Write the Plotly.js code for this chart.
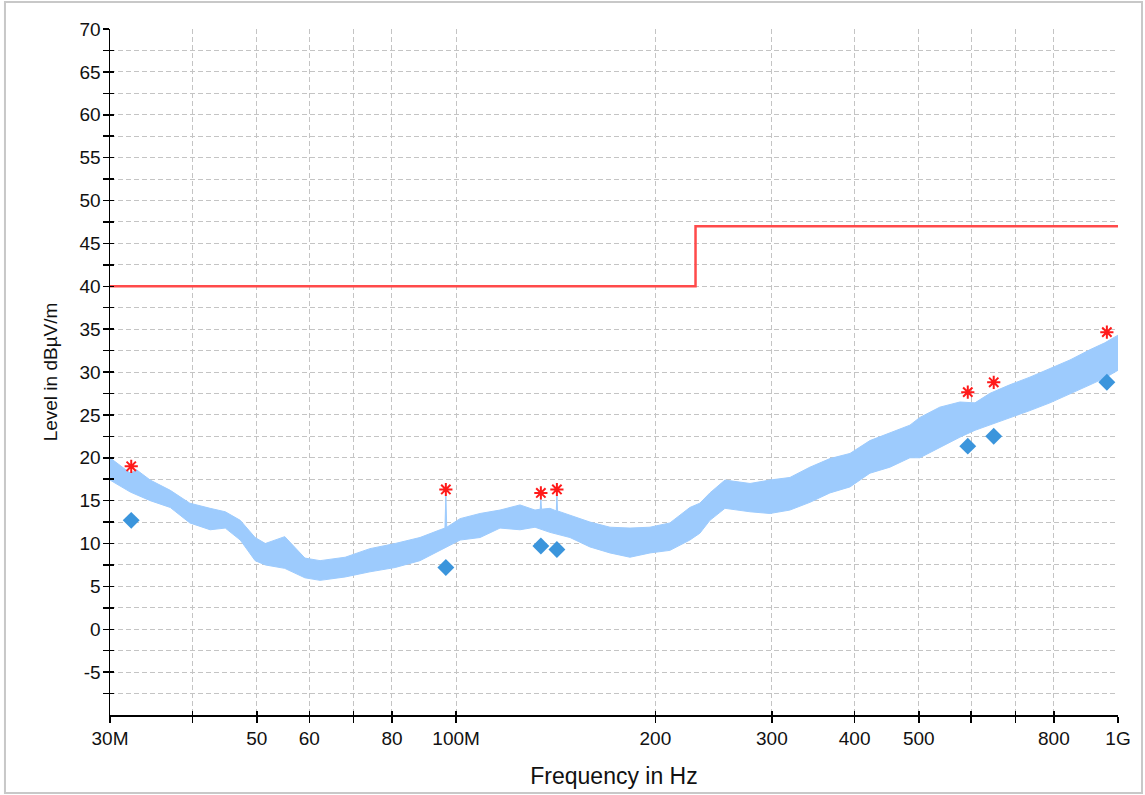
<!DOCTYPE html>
<html>
<head>
<meta charset="utf-8">
<script src="https://cdn.plot.ly/plotly-3.0.1.min.js"></script>
<style>
html,body{margin:0;padding:0;background:#fff;}
#chart{width:1145px;height:795px;}
</style>
</head>
<body>
<div id="chart"></div>
<script>
// ---- Data (frequency in MHz, level in dBµV/m) ----
const upperFreq = [30,32.2,32.9,34.5,37.0,39.6,42.5,44.8,47.2,49.7,51.5,55.1,59.1,62.3,68.0,74.1,80.9,88.2,94.6,96.2,96.5,96.8,101.4,108.7,116.5,124.9,131.6,134.0,134.3,134.6,138.6,141.7,142,142.3,148.6,159.3,170.8,183.1,196.3,210.4,225.5,233.5,241.8,254.8,278,297.9,319.4,342.4,367.1,393.6,421.9,452.3,484.9,502,538,577,608,640,686,736,789,846,907,955,1000];
const upperLevel = [20.0,18.2,18.6,17.4,16.2,14.7,14.1,13.7,12.7,10.7,10.0,10.8,8.3,8.0,8.4,9.4,10.0,10.7,11.6,11.8,15.6,11.9,12.9,13.5,13.9,14.5,13.9,14.0,15.2,14.0,14.1,13.8,15.6,13.8,13.3,12.5,11.9,11.8,11.9,12.4,14.2,14.7,15.9,17.4,17.0,17.4,17.7,18.9,19.9,20.5,22.0,22.9,23.8,24.7,25.9,26.5,26.4,27.5,28.5,29.4,30.4,31.4,32.6,33.4,34.3];
const lowerFreq = [30,32.2,34.5,37.0,39.6,42.5,44.8,47.2,49.7,51.5,55.1,59.1,62.3,68.0,74.1,80.9,88.2,94.6,101.4,108.7,116.5,124.9,131.6,138.6,148.6,159.3,170.8,183.1,196.3,210.4,225.5,233.5,241.8,254.8,278,297.9,319.4,342.4,367.1,393.6,421.9,452.3,484.9,502,538,577,608,640,686,736,789,846,907,955,1000];
const lowerLevel = [17.4,16.0,15.0,14.2,12.4,11.6,11.8,10.4,8.0,7.5,7.1,6.0,5.7,6.1,6.7,7.2,8.0,9.2,10.4,10.7,11.8,11.6,11.9,11.3,10.7,9.6,8.9,8.4,8.9,9.2,10.4,11.2,12.7,14.1,13.7,13.5,13.9,14.8,15.9,16.6,18.2,18.9,20.0,20.0,21.2,22.4,23.2,23.8,24.7,25.5,26.4,27.5,28.5,29.3,30.2];

const peakFreq  = [32.3,96.5,134.3,142,593,649,962];
const peakLevel = [19.0,16.3,15.9,16.3,27.65,28.8,34.65];
const finalFreq  = [32.3,96.5,134.3,142,593,649,962];
const finalLevel = [12.7,7.2,9.7,9.3,21.35,22.5,28.8];

const limitFreq  = [30,230,1000];
const limitLevel = [40,47,47];

const xTickVals = [30,40,50,60,70,80,100,200,300,400,500,600,700,800,1000];
const xTickText = ['30M','','50','60','','80','100M','200','300','400','500','','','800','1G'];
const yTickVals = [-5,0,5,10,15,20,25,30,35,40,45,50,55,60,65,70];
const yTickText = ['-5','0','5','10','15','20','25','30','35','40','45','50','55','60','65','70'];
const yMinorVals = [-7.5,-2.5,2.5,7.5,12.5,17.5,22.5,27.5,32.5,37.5,42.5,47.5,52.5,57.5,62.5,67.5];

// ---- Traces ----
const bandColor = '#9dcbfd';
const traces = [
  {x: lowerFreq, y: lowerLevel, type:'scatter', mode:'lines',
   line:{color:bandColor, width:1}, hoverinfo:'skip', showlegend:false},
  {x: upperFreq, y: upperLevel, type:'scatter', mode:'lines', fill:'tonexty',
   fillcolor:bandColor, line:{color:bandColor, width:1}, showlegend:false},
  {x: limitFreq, y: limitLevel, type:'scatter', mode:'lines',
   line:{color:'#ff4a4a', width:2.5, shape:'hv'}, showlegend:false},
  {x: finalFreq, y: finalLevel, type:'scatter', mode:'markers',
   marker:{symbol:'diamond', size:13, color:'#3b95dc'}, showlegend:false},
  {x: peakFreq, y: peakLevel, type:'scatter', mode:'markers',
   marker:{symbol:'asterisk-open', size:11, color:'#ff1a1a', line:{color:'#ff1a1a', width:2}}, showlegend:false}
];

const gridColor = '#c4c4c4';
const fontFam = 'Liberation Sans, Arial, sans-serif';
const xr = [Math.log10(30), Math.log10(1000)];

const layout = {
  width:1145, height:795,
  margin:{l:110, r:27, t:29, b:80},
  paper_bgcolor:'#ffffff', plot_bgcolor:'#ffffff',
  font:{family:fontFam, size:19, color:'#111'},
  showlegend:false,
  xaxis:{
    type:'log', range:xr, tickmode:'array', tickvals:xTickVals, ticktext:xTickText,
    ticks:'outside', ticklen:6, tickwidth:1.5, tickcolor:'#000',
    showline:true, linecolor:'#000', linewidth:1.5,
    showgrid:true, gridcolor:gridColor, griddash:'5px,3px', gridwidth:1,
    zeroline:false, tickfont:{size:19},
    title:{text:'Frequency in Hz', font:{size:23}, standoff:19}
  },
  xaxis2:{
    type:'log', range:xr, overlaying:'x', anchor:'y', side:'bottom',
    tickmode:'array', tickvals:xTickVals, ticks:'inside', ticklen:4, tickwidth:1.5, tickcolor:'#000',
    showticklabels:false, showgrid:false, showline:false, zeroline:false
  },
  yaxis:{
    range:[-10,70], tickmode:'array', tickvals:yTickVals, ticktext:yTickText,
    ticks:'outside', ticklen:6, tickwidth:1.5, tickcolor:'#000',
    showline:true, linecolor:'#000', linewidth:1.5,
    showgrid:true, gridcolor:gridColor, griddash:'5px,3px', gridwidth:1,
    zeroline:false, tickfont:{size:19}, ticklabelstandoff:-2,
    minor:{tickmode:'array', tickvals:yMinorVals, ticks:'outside', ticklen:6, tickwidth:1.5, tickcolor:'#000',
           showgrid:true, gridcolor:gridColor, griddash:'5px,3px', gridwidth:1},
    title:{text:'Level in dBµV/m', font:{size:19}, standoff:17}
  },
  yaxis2:{
    range:[-10,70], overlaying:'y', anchor:'x', side:'left',
    tickmode:'array', tickvals:yTickVals, ticks:'inside', ticklen:4, tickwidth:1.5, tickcolor:'#000',
    showticklabels:false, showgrid:false, showline:false, zeroline:false,
    minor:{tickmode:'array', tickvals:yMinorVals, ticks:'inside', ticklen:4, tickwidth:1.5, tickcolor:'#000', showgrid:false}
  },
  shapes:[
    {type:'rect', xref:'paper', yref:'paper', x0:-0.1042, x1:1.0238, y0:-0.1137, y1:1.0394,
     line:{color:'#c8c8c8', width:2}, fillcolor:'rgba(0,0,0,0)', layer:'below'}
  ]
};

// invisible trace so the overlay axes (crossing tick marks) get drawn
traces.push({x:[30], y:[-20], xaxis:'x2', yaxis:'y2', type:'scatter', mode:'markers',
  marker:{opacity:0}, hoverinfo:'skip', showlegend:false});

Plotly.newPlot('chart', traces, layout, {displayModeBar:false, staticPlot:true});
</script>
</body>
</html>
